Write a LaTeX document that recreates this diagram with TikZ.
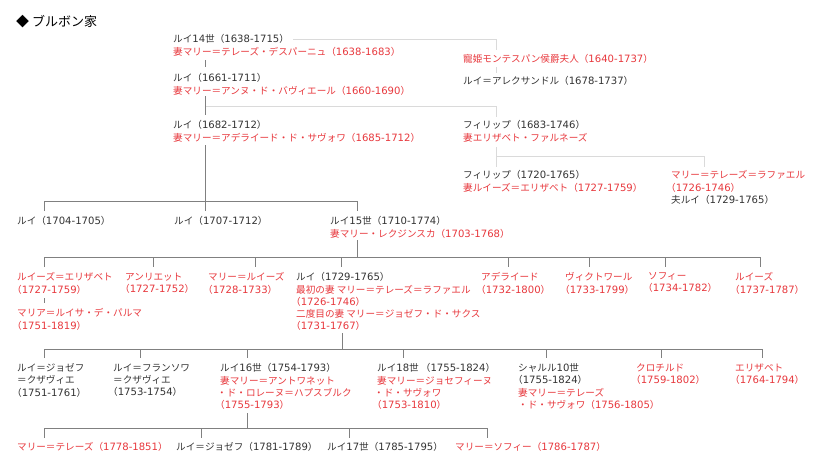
\documentclass[tikz,border=0pt]{standalone}
\usepackage{fontspec}
\setmainfont{Noto Sans CJK JP}
\newfontfamily\dv{DejaVu Sans}[Scale=1.05]
\definecolor{rd}{HTML}{E8383D}
\definecolor{tx}{HTML}{333333}
\definecolor{dkline}{HTML}{808080}
\definecolor{ltline}{HTML}{DADADA}
\newcommand\Y[1]{（{\dv #1}）}
\newcommand\YY[1]{\kern-5pt（{\dv #1}）}
\newcommand\D[1]{{\dv #1}}
\newcommand\R{\color{rd}}
\tikzset{
  person/.style={anchor=north west, inner sep=0pt, align=left,
    font=\fontsize{9.6}{12.2}\selectfont, text=tx},
  redperson/.style={person, text=rd},
  dk/.style={draw=dkline, line width=0.9pt},
  lt/.style={draw=ltline, line width=0.9pt},
}
\begin{document}
\begin{tikzpicture}[x=1pt,y=-1pt]
\fill[white] (0,0) rectangle (820,464);
\useasboundingbox (0,0) rectangle (820,464);

% title
\node[anchor=west, inner sep=0pt, font=\fontsize{13}{15}\selectfont, text=black] (title) at (16,22) {◆ ブルボン家};

% generation 1-3
\node[person] (L14) at (173,34.5) {ルイ\D{14}世\Y{1638-1715}\\ \R 妻マリー＝テレーズ・デスパーニュ\Y{1638-1683}};
\node[redperson] (Mont) at (463,54.5) {寵姫モンテスパン侯爵夫人\Y{1640-1737}};
\node[person] (LA) at (463,76.5) {ルイ＝アレクサンドル\Y{1678-1737}};
\node[person] (L1661) at (173,73.5) {ルイ\Y{1661-1711}\\ \R 妻マリー＝アンヌ・ド・バヴィエール\Y{1660-1690}};
\node[person] (L1682) at (173,120.5) {ルイ\Y{1682-1712}\\ \R 妻マリー＝アデライード・ド・サヴォワ\Y{1685-1712}};
\node[person] (Ph1683) at (463,120.5) {フィリップ\Y{1683-1746}\\ \R 妻エリザベト・ファルネーズ};
\node[person] (Ph1720) at (463,170.5) {フィリップ\Y{1720-1765}\\ \R 妻ルイーズ＝エリザベト\Y{1727-1759}};
\node[person] (MTR) at (671,170.5) {\R マリー＝テレーズ＝ラファエル\\ \R \YY{1726-1746}\\ 夫ルイ\Y{1729-1765}};

% generation 4
\node[person] (L1704) at (17,216.5) {ルイ\Y{1704-1705}};
\node[person] (L1707) at (174,216.5) {ルイ\Y{1707-1712}};
\node[person] (L15) at (330,216.5) {ルイ\D{15}世\Y{1710-1774}\\ \R 妻マリー・レクジンスカ\Y{1703-1768}};

% generation 5
\node[redperson] (LE) at (17,272.5) {ルイーズ＝エリザベト\\ \YY{1727-1759}};
\node[redperson] (MLP) at (17,308.5) {マリア＝ルイサ・デ・パルマ\\ \YY{1751-1819}};
\node[redperson] (Hen) at (125,272.5) {アンリエット\\ \YY{1727-1752}};
\node[redperson] (MLz) at (208,272.5) {マリー＝ルイーズ\\ \YY{1728-1733}};
\node[person] (L1729) at (296,272.5) {ルイ\Y{1729-1765}\\ \R 最初の妻 マリー＝テレーズ＝ラファエル\\ \R \YY{1726-1746}\\ \R 二度目の妻 マリー＝ジョゼフ・ド・サクス\\ \R \YY{1731-1767}};
\node[redperson] (Ade) at (481,272.5) {アデライード\\ \YY{1732-1800}};
\node[redperson] (Vic) at (565,272.5) {ヴィクトワール\\ \YY{1733-1799}};
\node[redperson] (Sof) at (648,272.5) {ソフィー\\ \YY{1734-1782}};
\node[redperson] (Lz) at (735,272.5) {ルイーズ\\ \YY{1737-1787}};

% generation 6
\node[person] (LJX) at (17,363.5) {ルイ＝ジョゼフ\\ ＝クザヴィエ\\ \YY{1751-1761}};
\node[person] (LFX) at (113,363.5) {ルイ＝フランソワ\\ ＝クザヴィエ\\ \YY{1753-1754}};
\node[person] (L16) at (220,363.5) {ルイ\D{16}世\Y{1754-1793}\\ \R 妻マリー＝アントワネット\\ \R \kern-3pt・ド・ロレーヌ＝ハプスブルク\\ \R \YY{1755-1793}};
\node[person] (L18) at (377,363.5) {ルイ\D{18}世 \Y{1755-1824}\\ \R 妻マリー＝ジョセフィーヌ\\ \R \kern-3pt・ド・サヴォワ\\ \R \YY{1753-1810}};
\node[person] (C10) at (518,363.5) {シャルル\D{10}世\\ \YY{1755-1824}\\ \R 妻マリー＝テレーズ\\ \R ・ド・サヴォワ\Y{1756-1805}};
\node[redperson] (Clo) at (636,363.5) {クロチルド\\ \YY{1759-1802}};
\node[redperson] (Eli) at (735,363.5) {エリザベト\\ \YY{1764-1794}};

% generation 7
\node[redperson] (MT) at (17,442.5) {マリー＝テレーズ\Y{1778-1851}};
\node[person] (LJ) at (176,442.5) {ルイ＝ジョゼフ\Y{1781-1789}};
\node[person] (L17) at (327,442.5) {ルイ\D{17}世\Y{1785-1795}};
\node[redperson] (MS) at (455,442.5) {マリー＝ソフィー\Y{1786-1787}};

% junction coordinates
\coordinate (a14) at (293,39);
\coordinate (m1) at (496,50);
\coordinate (m2) at (496,67);
\coordinate (m3) at (496,73);
\coordinate (b1) at (205,60);
\coordinate (b2) at (205,67);
\coordinate (c1) at (205,96);
\coordinate (c2) at (205,115);
\coordinate (c3) at (205,106);
\coordinate (p1) at (496,117);
\coordinate (d1) at (205,145);
\coordinate (d2) at (205,211);
\coordinate (h1) at (44,201);
\coordinate (h2) at (357,201);
\coordinate (f1) at (496,147);
\coordinate (f2) at (496,167);
\coordinate (f3) at (496,156);
\coordinate (f4) at (704,167);
\coordinate (e1) at (357,240);
\coordinate (e2) at (357,257);
\coordinate (g1) at (342,333);
\coordinate (g2) at (342,349);
\coordinate (k1) at (247,413);
\coordinate (k2) at (247,428);

% light connectors
\draw[lt] (a14) -| (m1);
\draw[lt] (m2) -- (m3);
\draw[lt] (c3) -| (p1);
\draw[lt] (f1) -- (f2);
\draw[lt] (f3) -| (f4);

% dark connectors
\draw[dk] (b1) -- (b2);
\draw[dk] (c1) -- (c2);
\draw[dk] (d1) -- (d2);
\draw[dk] (h1 |- 0,211) -- (h1) -- (h2) -- (h2 |- 0,211);

\draw[dk] (e1) -- (e2);
\draw[dk] (44,267) -- (44,257) -- (760,257) -- (760,267);
\foreach \x in {153,255,341,508,589,665} \draw[dk] (\x,257) -- (\x,267);
\draw[dk] (44,298) -- (44,303);

\draw[dk] (g1) -- (g2);
\draw[dk] (44,358) -- (44,349) -- (762,349) -- (762,358);
\foreach \x in {140,247,403,546,661} \draw[dk] (\x,349) -- (\x,358);

\draw[dk] (k1) -- (k2);
\draw[dk] (44,438) -- (44,428) -- (487,428) -- (487,438);
\foreach \x in {201,349} \draw[dk] (\x,428) -- (\x,438);
\end{tikzpicture}
\end{document}
